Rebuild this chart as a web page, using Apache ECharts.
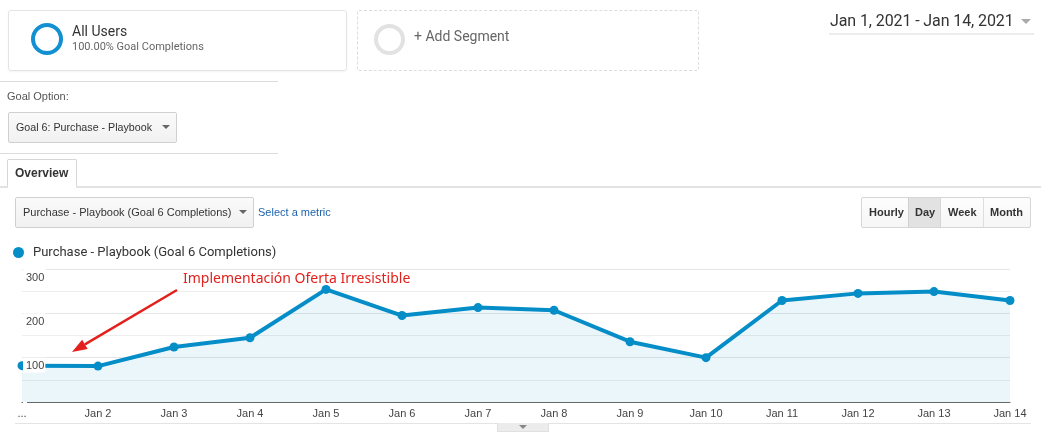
<!DOCTYPE html>
<html>
<head>
<meta charset="utf-8">
<script src="https://cdn.jsdelivr.net/npm/echarts@6/dist/echarts.min.js"></script>
<style>
  html, body { margin:0; padding:0; background:#fff; width:1041px; height:437px; overflow:hidden; }
  #chart { position:absolute; left:0; top:0; width:1041px; height:437px; z-index:0; }
  .ui { position:absolute; z-index:1; box-sizing:border-box; font-family:'Liberation Sans', Arial, sans-serif; white-space:nowrap; }
  .rob { font-family:Roboto, 'Liberation Sans', sans-serif; }
  .tri { position:absolute; width:0; height:0; border-left:4px solid transparent; border-right:4px solid transparent; border-top:4px solid #666; }
</style>
</head>
<body>
<div id="chart"></div>

<!-- All Users card -->
<div class="ui" style="left:8px;top:10px;width:339px;height:61px;border:1px solid #e4e4e4;border-radius:3px;box-shadow:0 1px 2px rgba(0,0,0,0.05);"></div>
<div class="ui" style="left:31px;top:23px;width:32px;height:32px;border:4.5px solid #1290d2;border-radius:50%;"></div>
<div class="ui rob" style="left:72px;top:22px;font-size:14px;color:#333;line-height:18px;">All Users</div>
<div class="ui rob" style="left:72px;top:40px;font-size:11px;color:#666;line-height:14px;">100.00% Goal Completions</div>

<!-- Add Segment -->
<div class="ui" style="left:357px;top:10px;width:342px;height:61px;border:1px dashed #dcdcdc;border-radius:2px;"></div>
<div class="ui" style="left:374px;top:24px;width:31px;height:31px;border:4px solid #e2e2e2;border-radius:50%;"></div>
<div class="ui rob" style="left:414px;top:27px;font-size:14px;color:#666;line-height:18px;">+ Add Segment</div>

<!-- Date range -->
<div class="ui rob" style="left:830px;top:11px;font-size:16px;color:#333;line-height:20px;letter-spacing:-0.1px;">Jan 1, 2021 - Jan 14, 2021</div>
<div class="tri" style="left:1021px;top:19px;border-left-width:5px;border-right-width:5px;border-top:5px solid #aaa;z-index:1;"></div>
<div class="ui" style="left:829px;top:33px;width:205px;height:2px;background:#ececec;"></div>

<!-- Goal option -->
<div class="ui" style="left:0px;top:81px;width:278px;height:1px;background:#dcdcdc;"></div>
<div class="ui" style="left:7px;top:89px;font-size:11px;color:#555;line-height:14px;">Goal Option:</div>
<div class="ui" style="left:8px;top:112px;width:169px;height:31px;border:1px solid #d0d0d0;border-radius:2px;background:linear-gradient(#fafafa,#f1f1f1);"></div>
<div class="ui" style="left:16px;top:120px;font-size:10.7px;color:#333;line-height:14px;">Goal 6: Purchase - Playbook</div>
<div class="tri" style="left:162px;top:125px;z-index:1;"></div>
<div class="ui" style="left:0px;top:153px;width:278px;height:1px;background:#dcdcdc;"></div>

<!-- Overview tab -->
<div class="ui" style="left:7px;top:159px;width:70px;height:29px;border:1px solid #d6d6d6;border-bottom:none;background:#fff;border-radius:2px 2px 0 0;"></div>
<div class="ui" style="left:15px;top:166px;font-size:12px;font-weight:bold;color:#333;line-height:14px;">Overview</div>
<div class="ui" style="left:0px;top:186px;width:1041px;height:2px;background:#e2e2e2;"></div>
<div class="ui" style="left:8px;top:186px;width:68px;height:2px;background:#fff;"></div>

<!-- Metric selector -->
<div class="ui" style="left:15px;top:197px;width:239px;height:31px;border:1px solid #d0d0d0;border-radius:2px;background:linear-gradient(#fafafa,#f1f1f1);"></div>
<div class="ui" style="left:23px;top:205px;font-size:11px;color:#333;line-height:14px;">Purchase - Playbook (Goal 6 Completions)</div>
<div class="tri" style="left:239px;top:210px;z-index:1;"></div>
<div class="ui" style="left:258px;top:205px;font-size:11px;color:#1f64ae;line-height:14px;">Select a metric</div>

<!-- Hourly/Day/Week/Month -->
<div class="ui" style="left:861px;top:197px;width:170px;height:31px;border:1px solid #d6d6d6;border-radius:2px;background:linear-gradient(#fdfdfd,#f6f6f6);"></div>
<div class="ui" style="left:908px;top:198px;width:33px;height:29px;background:#e2e2e2;border-left:1px solid #cfcfcf;border-right:1px solid #d6d6d6;"></div>
<div class="ui" style="left:983px;top:198px;width:1px;height:29px;background:#dedede;"></div>
<div class="ui" style="left:869px;top:205px;font-size:11px;font-weight:bold;color:#333;line-height:14px;">Hourly</div>
<div class="ui" style="left:915px;top:205px;font-size:11px;font-weight:bold;color:#333;line-height:14px;">Day</div>
<div class="ui" style="left:948px;top:205px;font-size:11px;font-weight:bold;color:#333;line-height:14px;">Week</div>
<div class="ui" style="left:990px;top:205px;font-size:11px;font-weight:bold;color:#333;line-height:14px;">Month</div>

<!-- bottom bar -->
<div class="ui" style="left:15px;top:423px;width:1016px;height:1px;background:#e4e4e4;"></div>
<div class="ui" style="left:497px;top:423px;width:52px;height:9px;background:#ececec;border:1px solid #e0e0e0;border-top:none;"></div>
<div class="tri" style="left:519px;top:425px;border-top-color:#888;z-index:2;"></div>

<script>
const categories = ['Jan 1','Jan 2','Jan 3','Jan 4','Jan 5','Jan 6','Jan 7','Jan 8','Jan 9','Jan 10','Jan 11','Jan 12','Jan 13','Jan 14'];
const completions = [82, 81, 124, 145, 254, 195, 213, 207, 136, 100, 229, 245, 249, 229];
const yTickLabels = ['', '100', '200', '300'];
const seriesName = 'Purchase - Playbook (Goal 6 Completions)';
const annotationText = 'Implementación Oferta Irresistible';

const chart = echarts.init(document.getElementById('chart'), null, {renderer:'canvas'});
const red = '#e3211c';
// arrow geometry (annotation overlay)
const tail = [177, 290], tip = [72, 352];
const dx = tip[0]-tail[0], dy = tip[1]-tail[1], L = Math.hypot(dx, dy);
const ux = dx/L, uy = dy/L, nx = -uy, ny = ux;
const headLen = 15, headHalf = 5.5;
const base = [tip[0]-headLen*ux, tip[1]-headLen*uy];

const yBase = { type: 'value', min: 0, max: 300, interval: 100, position: 'left',
  axisLine: { show: false }, axisTick: { show: false } };

chart.setOption({
  animation: false,
  legend: {
    data: [seriesName], left: 8, top: 241, icon: 'circle', itemWidth: 11, itemHeight: 11,
    textStyle: { fontFamily: 'Roboto, Liberation Sans, sans-serif', fontSize: 13, color: '#333', padding: [0,0,0,4] },
    selectedMode: false
  },
  grid: { left: 22, right: 31, top: 269, bottom: 35 },
  xAxis: {
    type: 'category', data: categories, boundaryGap: false,
    axisLine: { lineStyle: { color: '#666', width: 1 } },
    axisTick: { show: false },
    splitLine: { show: false },
    axisLabel: {
      color: '#444', fontSize: 11, fontFamily: 'Liberation Sans, Arial, sans-serif', margin: 6,
      interval: 0,
      formatter: (v, i) => i === 0 ? '...' : v
    }
  },
  yAxis: [
    Object.assign({}, yBase, {
      axisLabel: { show: false },
      splitLine: { lineStyle: { color: '#e6e6e6' } },
      minorTick: { show: false, splitNumber: 2 },
      minorSplitLine: { show: true, lineStyle: { color: '#eeeeee' } }
    }),
    Object.assign({}, yBase, {
      z: 6,
      splitLine: { show: false },
      axisLabel: {
        inside: true, margin: 1, verticalAlign: 'top', padding: [3,1,1,3], backgroundColor: '#fff',
        color: '#444', fontSize: 11, fontFamily: 'Liberation Sans, Arial, sans-serif',
        formatter: (v) => yTickLabels[Math.round(v/100)]
      }
    })
  ],
  series: [{
    type: 'line', name: seriesName, data: completions, yAxisIndex: 0,
    symbol: 'circle', symbolSize: 9, showSymbol: true,
    lineStyle: { width: 4, color: '#058dc7' },
    itemStyle: { color: '#058dc7' },
    areaStyle: { color: 'rgba(5,141,199,0.11)' },
    clip: false, z: 3
  }],
  graphic: [
    { type: 'text', left: 183, top: 272, z: 10,
      style: { text: annotationText, fill: red, font: '14px "Noto Sans", "Open Sans", sans-serif' } },
    { type: 'line', z: 10, shape: { x1: tail[0], y1: tail[1], x2: base[0], y2: base[1] },
      style: { stroke: red, lineWidth: 2.5 } },
    { type: 'polygon', z: 10, shape: { points: [tip, [base[0]+headHalf*nx, base[1]+headHalf*ny], [base[0]-headHalf*nx, base[1]-headHalf*ny]] },
      style: { fill: red } }
  ]
});
</script>
</body>
</html>
